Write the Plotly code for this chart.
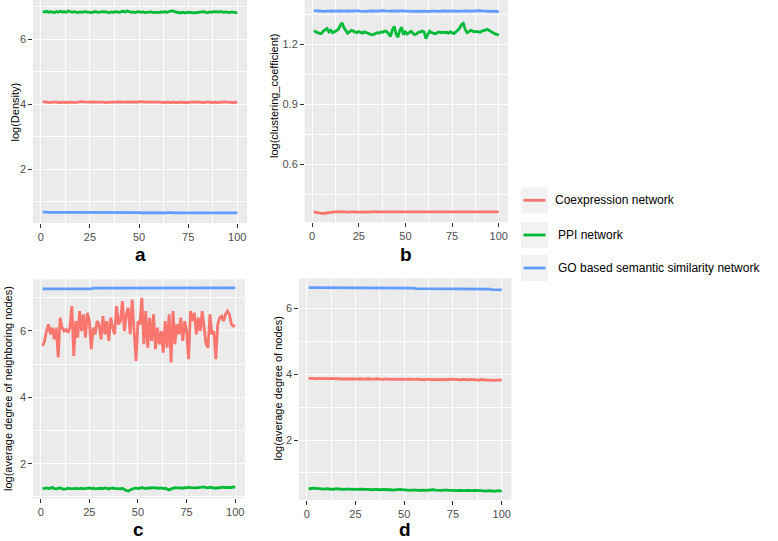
import plotly.graph_objects as go

# ---------------- data ----------------
run = list(range(1, 101))
series_names = ["Coexpression network", "PPI network", "GO based semantic similarity network"]
series_colors = ["#F8766D", "#00BA38", "#619CFF"]

density_coexp = [4.08,4.07,4.06,4.07,4.05,4.06,4.07,4.06,4.05,4.06,
                 4.07,4.06,4.05,4.06,4.07,4.06,4.05,4.06,4.06,4.07,
                 4.08,4.07,4.06,4.05,4.06,4.07,4.06,4.05,4.06,4.06,
                 4.07,4.06,4.05,4.06,4.07,4.06,4.06,4.05,4.06,4.07,
                 4.06,4.05,4.06,4.07,4.06,4.05,4.06,4.07,4.06,4.08,
                 4.07,4.06,4.05,4.06,4.07,4.06,4.05,4.06,4.06,4.07,
                 4.06,4.05,4.06,4.07,4.06,4.05,4.06,4.06,4.05,4.06,
                 4.07,4.06,4.05,4.04,4.05,4.06,4.05,4.06,4.07,4.06,
                 4.05,4.06,4.05,4.06,4.07,4.06,4.05,4.06,4.06,4.05,
                 4.06,4.05,4.06,4.07,4.06,4.05,4.06,4.05,4.06,4.05]
density_ppi = [6.84,6.83,6.85,6.82,6.84,6.83,6.81,6.84,6.82,6.85,
               6.83,6.84,6.82,6.86,6.83,6.82,6.84,6.83,6.81,6.83,
               6.82,6.84,6.83,6.82,6.83,6.81,6.83,6.84,6.82,6.83,
               6.82,6.84,6.83,6.82,6.81,6.83,6.82,6.84,6.83,6.82,
               6.84,6.85,6.83,6.86,6.84,6.82,6.83,6.81,6.83,6.84,
               6.82,6.83,6.81,6.82,6.84,6.83,6.82,6.83,6.82,6.81,
               6.83,6.82,6.84,6.82,6.83,6.85,6.87,6.84,6.82,6.81,
               6.80,6.82,6.81,6.80,6.82,6.81,6.82,6.80,6.81,6.82,
               6.83,6.82,6.84,6.82,6.81,6.83,6.82,6.84,6.83,6.82,
               6.83,6.84,6.82,6.83,6.82,6.81,6.83,6.82,6.81,6.80]
density_go = [0.69,0.68,0.69,0.68,0.68,0.69,0.68,0.68,0.67,0.68,
              0.68,0.69,0.68,0.68,0.67,0.68,0.68,0.69,0.68,0.68,
              0.68,0.67,0.68,0.68,0.69,0.68,0.68,0.67,0.68,0.68,
              0.67,0.68,0.68,0.67,0.68,0.67,0.67,0.68,0.67,0.67,
              0.68,0.67,0.67,0.68,0.67,0.67,0.67,0.68,0.67,0.67,
              0.67,0.66,0.67,0.67,0.67,0.66,0.67,0.67,0.66,0.67,
              0.67,0.66,0.67,0.66,0.67,0.67,0.66,0.67,0.66,0.66,
              0.67,0.66,0.66,0.67,0.66,0.66,0.67,0.66,0.66,0.66,
              0.67,0.66,0.66,0.66,0.67,0.66,0.66,0.66,0.67,0.66,
              0.66,0.66,0.67,0.66,0.66,0.66,0.66,0.67,0.66,0.66]

clust_coexp = [0.362,0.360,0.356,0.354,0.355,0.354,0.356,0.357,0.359,0.360,
               0.361,0.362,0.361,0.362,0.363,0.362,0.361,0.362,0.362,0.361,
               0.362,0.363,0.362,0.361,0.362,0.362,0.363,0.362,0.361,0.362,
               0.362,0.361,0.362,0.363,0.362,0.362,0.361,0.362,0.362,0.363,
               0.362,0.361,0.362,0.362,0.363,0.362,0.361,0.362,0.362,0.361,
               0.362,0.363,0.362,0.362,0.361,0.362,0.363,0.362,0.361,0.362,
               0.362,0.361,0.362,0.363,0.362,0.362,0.361,0.362,0.362,0.363,
               0.362,0.361,0.362,0.362,0.363,0.362,0.361,0.362,0.362,0.361,
               0.362,0.363,0.362,0.362,0.361,0.362,0.363,0.362,0.361,0.362,
               0.362,0.361,0.362,0.363,0.362,0.362,0.361,0.362,0.362,0.362]
clust_ppi = [1.268,1.262,1.258,1.255,1.254,1.266,1.272,1.279,1.262,1.270,
             1.258,1.262,1.268,1.275,1.290,1.308,1.285,1.266,1.255,1.262,
             1.270,1.266,1.262,1.258,1.264,1.260,1.256,1.262,1.258,1.255,
             1.252,1.248,1.250,1.254,1.258,1.256,1.262,1.260,1.266,1.264,
             1.252,1.240,1.272,1.290,1.250,1.236,1.270,1.285,1.248,1.262,
             1.252,1.258,1.265,1.255,1.248,1.252,1.260,1.262,1.266,1.262,
             1.228,1.250,1.266,1.258,1.255,1.253,1.258,1.262,1.258,1.262,
             1.258,1.260,1.256,1.262,1.258,1.254,1.262,1.270,1.280,1.298,
             1.305,1.275,1.258,1.262,1.270,1.266,1.262,1.264,1.262,1.260,
             1.266,1.270,1.272,1.275,1.268,1.262,1.258,1.252,1.250,1.245]
clust_go = [1.368,1.367,1.366,1.365,1.366,1.364,1.365,1.366,1.367,1.368,
            1.367,1.366,1.367,1.368,1.367,1.366,1.365,1.366,1.367,1.366,
            1.365,1.366,1.367,1.368,1.367,1.366,1.365,1.364,1.365,1.366,
            1.367,1.368,1.367,1.366,1.367,1.368,1.369,1.368,1.367,1.366,
            1.365,1.366,1.367,1.366,1.365,1.366,1.367,1.368,1.367,1.366,
            1.367,1.366,1.365,1.366,1.367,1.366,1.365,1.366,1.367,1.366,
            1.365,1.364,1.365,1.366,1.367,1.366,1.365,1.366,1.367,1.368,
            1.367,1.366,1.365,1.366,1.367,1.366,1.365,1.364,1.365,1.366,
            1.367,1.368,1.367,1.366,1.365,1.366,1.367,1.368,1.369,1.368,
            1.367,1.366,1.365,1.364,1.365,1.366,1.365,1.364,1.365,1.364]

neigh_coexp = [5.55,5.70,6.00,6.20,5.90,6.10,5.75,6.10,5.20,6.40,
               6.10,6.00,6.05,5.95,6.10,6.75,5.25,6.30,5.80,6.60,
               6.00,6.50,5.80,6.55,6.30,5.45,6.10,5.90,6.30,6.20,
               5.75,6.45,5.90,6.30,5.70,6.40,6.10,5.90,6.75,6.20,
               6.30,6.90,6.00,6.50,6.70,5.90,6.95,5.90,5.10,6.30,
               6.20,7.00,5.60,6.60,5.50,6.40,5.70,6.50,5.45,6.10,
               5.60,6.00,5.35,6.30,5.50,6.50,5.05,6.60,5.60,6.20,
               5.90,6.40,5.70,6.30,6.00,5.15,6.60,6.30,6.55,5.90,
               6.40,6.00,6.60,6.10,5.60,5.50,6.50,5.90,6.00,5.15,
               6.20,6.40,6.45,6.30,6.50,6.60,6.50,6.20,6.15,6.15]
neigh_ppi = [1.24,1.26,1.27,1.25,1.26,1.28,1.25,1.24,1.26,1.27,
             1.25,1.23,1.24,1.26,1.25,1.24,1.25,1.26,1.24,1.25,
             1.26,1.24,1.25,1.26,1.27,1.25,1.26,1.24,1.25,1.27,
             1.26,1.25,1.27,1.26,1.24,1.26,1.27,1.25,1.26,1.25,
             1.24,1.26,1.22,1.19,1.17,1.21,1.24,1.26,1.27,1.25,
             1.26,1.28,1.26,1.25,1.27,1.26,1.28,1.27,1.26,1.25,
             1.26,1.27,1.25,1.26,1.23,1.21,1.24,1.27,1.28,1.27,
             1.28,1.27,1.26,1.28,1.27,1.29,1.28,1.27,1.28,1.27,
             1.28,1.29,1.28,1.30,1.28,1.27,1.29,1.28,1.27,1.26,
             1.28,1.27,1.29,1.28,1.27,1.28,1.29,1.28,1.30,1.29]
neigh_go = [7.27,7.27,7.26,7.27,7.27,7.27,7.26,7.27,7.27,7.27,
            7.27,7.26,7.27,7.27,7.27,7.27,7.26,7.27,7.27,7.27,
            7.27,7.27,7.26,7.27,7.27,7.27,7.29,7.29,7.28,7.29,
            7.28,7.28,7.29,7.28,7.28,7.29,7.28,7.28,7.28,7.29,
            7.28,7.28,7.28,7.29,7.28,7.28,7.28,7.29,7.28,7.28,
            7.28,7.29,7.28,7.28,7.28,7.28,7.29,7.28,7.28,7.28,
            7.29,7.28,7.28,7.28,7.29,7.29,7.28,7.29,7.28,7.28,
            7.29,7.28,7.28,7.29,7.28,7.30,7.30,7.29,7.30,7.30,
            7.30,7.30,7.29,7.30,7.30,7.30,7.30,7.29,7.30,7.30,
            7.30,7.30,7.30,7.29,7.30,7.30,7.30,7.30,7.30,7.30]

degree_coexp = [3.87,3.88,3.87,3.86,3.87,3.88,3.87,3.86,3.87,3.87,
                3.86,3.87,3.88,3.87,3.86,3.87,3.86,3.85,3.86,3.87,
                3.86,3.85,3.86,3.86,3.85,3.86,3.85,3.86,3.85,3.86,
                3.85,3.86,3.85,3.84,3.85,3.86,3.85,3.85,3.84,3.85,
                3.86,3.85,3.84,3.85,3.85,3.84,3.85,3.86,3.85,3.84,
                3.85,3.84,3.85,3.84,3.83,3.84,3.85,3.84,3.84,3.83,
                3.84,3.85,3.84,3.83,3.84,3.84,3.83,3.84,3.85,3.84,
                3.83,3.84,3.83,3.84,3.85,3.84,3.83,3.82,3.83,3.84,
                3.83,3.82,3.83,3.84,3.83,3.82,3.83,3.82,3.83,3.84,
                3.83,3.82,3.83,3.82,3.81,3.82,3.83,3.82,3.82,3.82]
degree_ppi = [0.52,0.53,0.55,0.54,0.53,0.52,0.53,0.52,0.51,0.52,
              0.51,0.52,0.51,0.50,0.52,0.51,0.52,0.51,0.50,0.51,
              0.52,0.51,0.50,0.51,0.51,0.50,0.51,0.52,0.51,0.50,
              0.51,0.50,0.49,0.50,0.51,0.50,0.49,0.50,0.51,0.50,
              0.49,0.50,0.49,0.48,0.49,0.50,0.49,0.50,0.49,0.48,
              0.49,0.48,0.47,0.48,0.49,0.48,0.47,0.48,0.49,0.48,
              0.47,0.48,0.49,0.50,0.49,0.48,0.47,0.48,0.47,0.48,
              0.49,0.48,0.47,0.48,0.47,0.46,0.47,0.48,0.47,0.46,
              0.47,0.46,0.47,0.46,0.47,0.48,0.47,0.46,0.47,0.46,
              0.45,0.46,0.47,0.46,0.45,0.44,0.45,0.46,0.45,0.45]
degree_go = [6.63,6.63,6.63,6.62,6.63,6.63,6.63,6.62,6.63,6.63,
             6.63,6.63,6.62,6.63,6.63,6.62,6.62,6.62,6.62,6.62,
             6.62,6.62,6.62,6.62,6.62,6.62,6.62,6.62,6.62,6.62,
             6.62,6.62,6.62,6.62,6.62,6.62,6.62,6.62,6.62,6.62,
             6.62,6.62,6.62,6.62,6.62,6.62,6.62,6.62,6.62,6.62,
             6.62,6.62,6.62,6.61,6.61,6.60,6.60,6.60,6.60,6.60,
             6.60,6.60,6.60,6.60,6.60,6.60,6.60,6.60,6.60,6.60,
             6.60,6.60,6.59,6.59,6.59,6.59,6.59,6.59,6.59,6.59,
             6.59,6.59,6.59,6.59,6.59,6.59,6.59,6.59,6.58,6.58,
             6.58,6.58,6.58,6.58,6.57,6.57,6.57,6.56,6.56,6.56]

panel_titles = ["log(Density)", "log(clustering_coefficient)",
                "log(average degree of neighboring nodes)", "log(average degree of nodes)"]
panel_letters = ["a", "b", "c", "d"]
panel_data = [
    [density_coexp, density_ppi, density_go],
    [clust_coexp, clust_ppi, clust_go],
    [neigh_coexp, neigh_ppi, neigh_go],
    [degree_coexp, degree_ppi, degree_go],
]
x_ticks = [0, 25, 50, 75, 100]

# ---------------- layout geometry (pixels) ----------------
W, H = 778, 541
# (left, right, top, bottom) in pixels of each panel
panel_px = [(33, 247, 0, 223), (304.7, 508, 0, 222.3),
            (33, 244.9, 279.3, 498.3), (299, 511.4, 278.3, 500)]
y_ranges = [[0.352, 7.197], [0.31, 1.4215], [0.957, 7.558], [0.178, 6.911]]
y_major = [2, 0.3, 2, 2]
y_tick0 = [0, 0.3, 0, 0]
x_range = [-3.95, 104.95]
title_pos = [(14.5, 112), (274, 96), (8, 389), (277.5, 389)]
# bottom edge (px) of each panel letter's text box
letter_bottom = [266, 266, 541, 541]

FONT = "Liberation Sans, Arial, Helvetica, sans-serif"

fig = go.Figure()
layout = dict(width=W, height=H, margin=dict(l=0, r=0, t=0, b=0),
              paper_bgcolor="white", plot_bgcolor="#EBEBEB",
              font=dict(family=FONT, color="black"), showlegend=False)

annotations = []
shapes = []
for i in range(4):
    l, r, t, b = panel_px[i]
    sfx = "" if i == 0 else str(i + 1)
    xa, ya = "x" + sfx, "y" + sfx
    for k in range(3):
        fig.add_trace(go.Scatter(x=run, y=panel_data[i][k], mode="lines",
                                 name=series_names[k], line=dict(color=series_colors[k], width=2.8),
                                 xaxis=xa, yaxis=ya, hoverinfo="skip"))
    common = dict(ticks="outside", ticklen=3.7, tickwidth=1.1, tickcolor="#333333",
                  tickfont=dict(family=FONT, size=11, color="#4D4D4D"),
                  showgrid=True, gridcolor="white", gridwidth=1.1,
                  zeroline=False, showline=False, fixedrange=True)
    layout["xaxis" + sfx] = dict(domain=[l / W, r / W], range=x_range, anchor=ya,
                                 tickmode="array", tickvals=x_ticks,
                                 minor=dict(tickmode="linear", tick0=0, dtick=12.5, showgrid=True,
                                            gridcolor="white", gridwidth=0.55, ticks=""),
                                 **common)
    layout["yaxis" + sfx] = dict(domain=[1 - b / H, 1 - t / H], range=y_ranges[i], anchor=xa,
                                 tickmode="linear", tick0=y_tick0[i], dtick=y_major[i],
                                 minor=dict(tickmode="linear", tick0=y_tick0[i] + y_major[i] / 2,
                                            dtick=y_major[i], showgrid=True,
                                            gridcolor="white", gridwidth=0.55, ticks=""),
                                 **common)
    # y-axis title
    tx, ty = title_pos[i]
    annotations.append(dict(text=panel_titles[i], textangle=-90, xref="paper", yref="paper",
                            x=tx / W, y=1 - ty / H, showarrow=False,
                            xanchor="center", yanchor="middle",
                            font=dict(family=FONT, size=11, color="black")))
    # panel letter
    annotations.append(dict(text="<b>" + panel_letters[i] + "</b>", xref="paper", yref="paper",
                            x=((l + r) / 2) / W, y=1 - letter_bottom[i] / H, showarrow=False,
                            xanchor="center", yanchor="bottom", borderpad=0,
                            font=dict(family=FONT, size=19, color="black")))

# legend (ggplot style keys)
legend_centers = [200.3, 235, 268]
for k in range(3):
    cy = legend_centers[k]
    shapes.append(dict(type="rect", xref="paper", yref="paper",
                       x0=521 / W, x1=548 / W, y0=1 - (cy + 13) / H, y1=1 - (cy - 13) / H,
                       fillcolor="#F2F2F2", line=dict(width=0), layer="above"))
    shapes.append(dict(type="line", xref="paper", yref="paper",
                       x0=523.5 / W, x1=545.5 / W, y0=1 - cy / H, y1=1 - cy / H,
                       line=dict(color=series_colors[k], width=2.8), layer="above"))
    annotations.append(dict(text=series_names[k], xref="paper", yref="paper",
                            x=[553, 556, 556][k] / W, y=1 - cy / H, showarrow=False,
                            xanchor="left", yanchor="middle",
                            font=dict(family=FONT, size=12, color="black")))

layout["annotations"] = annotations
layout["shapes"] = shapes
fig.update_layout(**layout)
fig.write_html("out.html", config={"displayModeBar": False},
               post_script="document.body.style.margin='0px';document.body.style.overflow='hidden';")
